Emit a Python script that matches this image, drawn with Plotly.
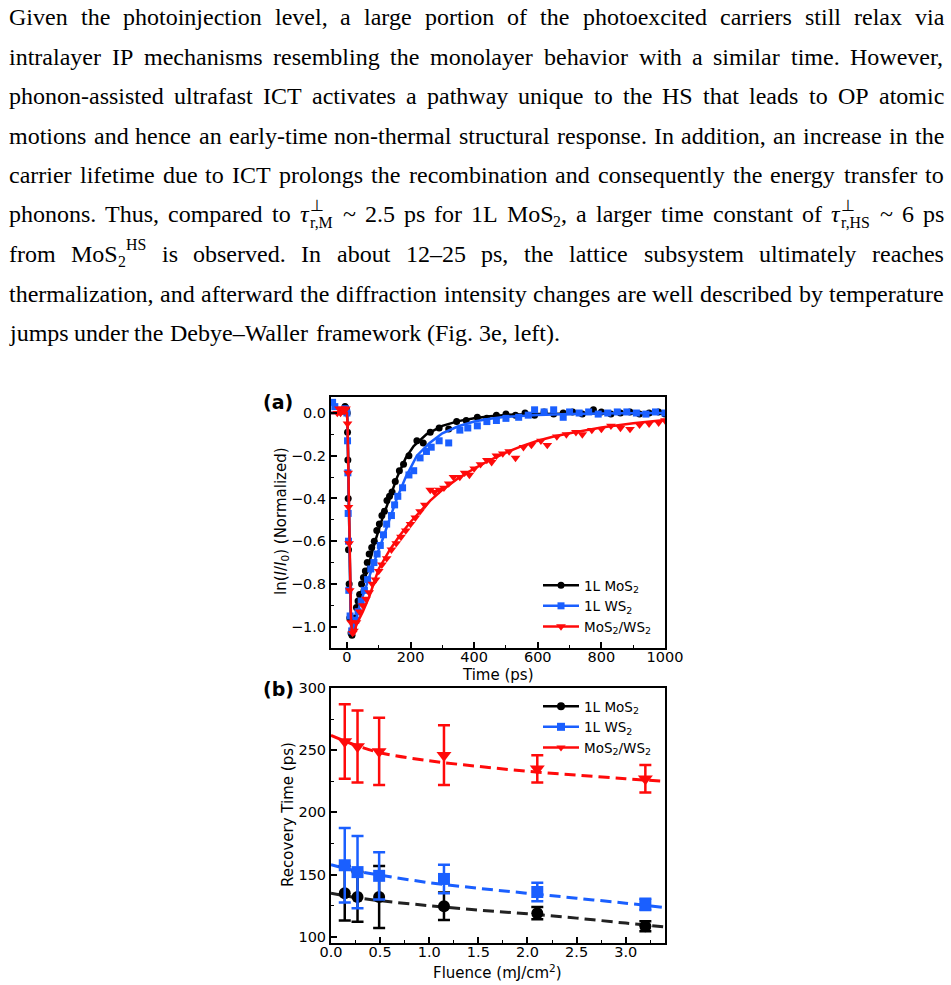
import plotly.graph_objects as go

W, H = 951, 985


def X(p):
    return p / W


def Y(p):
    return 1 - p / H


# ---------------- panel (a): ln(I/I0) vs time ----------------
series_names = ["1L MoS<sub>2</sub>", "1L WS<sub>2</sub>", "MoS<sub>2</sub>/WS<sub>2</sub>"]
series_colors = ["#000000", "#1a5fff", "#ff0a0a"]
series_symbols = ["circle", "square", "triangle-down"]

t_mos2 = [-12, -6, -2, 1, 2, 3, 4, 5, 7, 9, 13, 16, 20, 25, 30, 35, 40, 46, 52, 58,
          64, 70, 78, 86, 94, 102, 110, 118, 126, 134, 142, 152, 165, 178, 195, 220, 240, 262, 290, 320,
          345, 375, 410, 440, 470, 500, 530, 560, 590, 620, 650, 680, 710, 740, 775, 800, 830, 860, 890, 920,
          950, 980, 1000]
v_mos2 = [0.01, 0.03, 0.02, 0.0, -0.09, -0.22, -0.40, -0.64, -0.80, -0.96,
          -1.03, -1.04, -1.01, -0.96, -0.91, -0.88, -0.85, -0.80, -0.77, -0.74,
          -0.70, -0.66, -0.63, -0.60, -0.55, -0.52, -0.48, -0.46, -0.41, -0.39,
          -0.37, -0.32, -0.27, -0.24, -0.20, -0.13, -0.14, -0.09, -0.07, -0.075,
          -0.04, -0.035, -0.02, -0.025, -0.01, -0.005, -0.01, 0.0, -0.01, 0.005,
          -0.005, 0.0, 0.005, -0.005, 0.015, 0.005, -0.005, 0.0, 0.005, -0.005,
          0.0, 0.005, -0.005]

t_ws2 = [-45, -38, -5, 0, 2, 3, 4, 5, 6, 10, 15, 20, 28, 35, 45, 55, 65, 75, 85, 95,
         105, 115, 125, 140, 150, 160, 175, 195, 210, 230, 250, 265, 290, 320, 355, 380, 410, 440, 470, 500,
         540, 570, 590, 620, 650, 680, 700, 730, 760, 790, 820, 850, 880, 910, 940, 970, 1000]
v_ws2 = [0.05, 0.03, 0.02, 0.0, -0.13, -0.28, -0.47, -0.60, -0.83, -0.95,
         -1.02, -1.0, -0.97, -0.93, -0.88, -0.83, -0.78, -0.73, -0.70, -0.66,
         -0.62, -0.57, -0.52, -0.48, -0.43, -0.39, -0.35, -0.29, -0.27, -0.21,
         -0.18, -0.16, -0.13, -0.14, -0.08, -0.07, -0.06, -0.04, -0.035, -0.025,
         -0.02, -0.01, 0.015, 0.005, 0.015, -0.02, 0.005, 0.0, 0.005, -0.005,
         0.0, 0.005, 0.005, 0.0, -0.005, 0.005, 0.0]

t_hs = [-30, -25, -20, -15, -8, -3, 2, 4, 5, 7, 9, 13, 18, 22, 30, 40, 50, 60, 70, 80,
        90, 100, 110, 125, 140, 155, 170, 185, 200, 215, 230, 245, 262, 275, 290, 305, 320, 335, 355, 370,
        385, 400, 420, 440, 455, 470, 490, 510, 530, 555, 580, 610, 630, 660, 690, 720, 740, 770, 800, 830,
        860, 890, 920, 950, 980, 1000]
v_hs = [0.0, 0.02, 0.0, 0.02, 0.01, 0.02, -0.05, -0.28, -0.44, -0.61,
        -0.83, -0.98, -1.03, -1.02, -0.98, -0.93, -0.90, -0.87, -0.84, -0.80,
        -0.78, -0.74, -0.71, -0.68, -0.64, -0.61, -0.58, -0.55, -0.52, -0.49,
        -0.46, -0.43, -0.36, -0.37, -0.36, -0.35, -0.33, -0.30, -0.30, -0.28,
        -0.29, -0.26, -0.24, -0.22, -0.23, -0.20, -0.19, -0.18, -0.21, -0.16,
        -0.15, -0.13, -0.15, -0.11, -0.10, -0.09, -0.10, -0.08, -0.075, -0.06,
        -0.07, -0.075, -0.055, -0.05, -0.045, -0.035]

fit_t_mos2 = [-50, 0, 2, 4, 6, 8, 10, 12, 15, 18, 25, 35, 52, 70, 89, 110, 135, 158, 185, 210,
              250, 300, 350, 400, 450, 500, 600, 700, 850, 1000]
fit_v_mos2 = [0, 0, -0.05, -0.25, -0.45, -0.65, -0.82, -0.95, -1.03, -1.035, -0.98, -0.90, -0.80, -0.70,
              -0.60, -0.50, -0.40, -0.30, -0.21, -0.155, -0.10, -0.06, -0.038, -0.024, -0.015, -0.009,
              -0.004, -0.002, -0.001, 0.0]

fit_t_ws2 = [-50, 0, 2, 4, 6, 8, 10, 12, 15, 18, 25, 40, 63, 85, 110, 133, 157, 185, 220, 260,
             300, 350, 400, 450, 500, 600, 700, 850, 1000]
fit_v_ws2 = [0, 0, -0.05, -0.25, -0.45, -0.65, -0.82, -0.95, -1.03, -1.035, -0.99, -0.90, -0.80, -0.70,
             -0.60, -0.50, -0.40, -0.30, -0.20, -0.14, -0.095, -0.062, -0.04, -0.027, -0.018, -0.009,
             -0.004, -0.001, 0.0]

fit_t_hs = [-50, 0, 2, 4, 6, 8, 10, 13, 17, 21, 30, 50, 70, 100, 135, 168, 200, 230, 262, 300,
            350, 400, 450, 500, 550, 600, 650, 700, 800, 900, 1000]
fit_v_hs = [0, 0, -0.05, -0.25, -0.45, -0.65, -0.82, -0.97, -1.03, -1.04, -0.99, -0.93, -0.86, -0.73,
            -0.64, -0.57, -0.51, -0.46, -0.41, -0.36, -0.305, -0.26, -0.22, -0.185, -0.155, -0.13,
            -0.11, -0.095, -0.068, -0.048, -0.033]

# ---------------- panel (b): recovery time vs fluence ----------------
fluence = [0.14, 0.27, 0.49, 1.15, 2.1, 3.2]
rt_mos2 = [135, 132, 132, 124.5, 119, 108.5]
err_mos2 = [22, 20, 25, 11, 5, 4]
rt_ws2 = [157.5, 152, 149, 146.5, 136, 126]
err_ws2 = [30, 29, 19, 11.5, 7.5, 4.5]
rt_hs = [257, 253, 249, 246, 235, 227]
err_hs = [30, 29, 27, 24, 11, 11]

fit_fluence = [0, 0.25, 0.5, 1.0, 1.5, 2.0, 2.5, 3.0, 3.4]
fit_rt_mos2 = [135, 131.5, 129, 125, 121.5, 118.5, 115, 111, 108]
fit_rt_ws2 = [158, 153, 149.5, 143.5, 139, 135, 131, 127, 123.5]
fit_rt_hs = [262, 254, 248, 241.5, 237, 233, 230, 227, 225]

# ---------------- paragraph text ----------------
para_lines = [
    "Given the photoinjection level, a large portion of the photoexcited carriers still relax via",
    "intralayer IP mechanisms resembling the monolayer behavior with a similar time. However,",
    "phonon-assisted ultrafast ICT activates a pathway unique to the HS that leads to OP atomic",
    "motions and hence an early-time non-thermal structural response. In addition, an increase in the",
    "carrier lifetime due to ICT prolongs the recombination and consequently the energy transfer to",
    "phonons. Thus, compared to {TAUM} ~ 2.5 ps for 1L {MOS2C} a larger time constant of {TAUHS} ~ 6 ps",
    "from {MOS2HS} is observed. In about 12–25 ps, the lattice subsystem ultimately reaches",
    "thermalization, and afterward the diffraction intensity changes are well described by temperature",
    "jumps under the Debye–Waller framework (Fig. 3e, left).",
]

TW = {' ': 250, '!': 333, '(': 333, ')': 333, ',': 250, '-': 333, '.': 250, '/': 278, ':': 278,
      ';': 278, '~': 541, '–': 500, 'τ': 440, '⊥': 600,
      'A': 722, 'B': 667, 'C': 667, 'D': 722, 'E': 611, 'F': 556, 'G': 722, 'H': 722, 'I': 333,
      'J': 389, 'K': 722, 'L': 611, 'M': 889, 'N': 722, 'O': 722, 'P': 556, 'Q': 722, 'R': 667,
      'S': 556, 'T': 611, 'U': 722, 'V': 722, 'W': 944, 'X': 722, 'Y': 722, 'Z': 611,
      'a': 444, 'b': 500, 'c': 444, 'd': 500, 'e': 444, 'f': 333, 'g': 500, 'h': 500, 'i': 278,
      'j': 278, 'k': 500, 'l': 278, 'm': 778, 'n': 500, 'o': 500, 'p': 500, 'q': 500, 'r': 333,
      's': 389, 't': 278, 'u': 500, 'v': 500, 'w': 722, 'x': 500, 'y': 500, 'z': 444}

FS = 24
SC = 0.66
TEXT_L, TEXT_R = 8, 943
LINE0, LINE_STEP = 17, 39.5


def tw(s, size):
    return sum(TW.get(c, 500) for c in s) * size / 1000.0


def pieces(word):
    # (text, scale, dy, italic, advance)
    if word == "{TAUM}":
        return [("τ", 1, 0, True, True), ("⊥", SC, -9, False, False), ("r,M", SC, 8, False, True)]
    if word == "{TAUHS}":
        return [("τ", 1, 0, True, True), ("⊥", SC, -9, False, False), ("r,HS", SC, 8, False, True)]
    if word == "{MOS2C}":
        return [("MoS", 1, 0, False, True), ("2", SC, 7, False, True), (",", 1, 0, False, True)]
    if word == "{MOS2HS}":
        return [("MoS", 1, 0, False, True), ("2", SC, 7, False, True), ("HS", SC, -9, False, True)]
    return [(word, 1, 0, False, True)]


def word_width(word):
    return sum(tw(p[0], FS * p[1]) for p in pieces(word) if p[4])


annotations = []


def text_ann(x, y, text, size, family="Liberation Serif", bold=False, xanchor="left", angle=0):
    if bold:
        text = "<b>" + text + "</b>"
    annotations.append(dict(x=X(x), y=Y(y), xref="paper", yref="paper", text=text,
                            showarrow=False, xanchor=xanchor, yanchor="middle", borderpad=0,
                            textangle=angle, font=dict(family=family, size=size, color="black")))


for i, line in enumerate(para_lines):
    words = line.split(" ")
    ly = LINE0 + i * LINE_STEP
    widths = [word_width(w) for w in words]
    if i == len(para_lines) - 1:
        gap = tw(" ", FS)
    else:
        gap = (TEXT_R - TEXT_L - sum(widths)) / (len(words) - 1)
    cx = TEXT_L
    for w, wd in zip(words, widths):
        px = cx
        for txt, sc, dy, it, adv in pieces(w):
            t = "<i>" + txt + "</i>" if it else txt
            text_ann(px, ly + dy, t, FS * sc)
            if adv:
                px += tw(txt, FS * sc)
        cx += wd + gap

# panel labels
text_ann(278, 402, "(a)", 19, family="DejaVu Sans", bold=True, xanchor="center")
text_ann(278, 689, "(b)", 19, family="DejaVu Sans", bold=True, xanchor="center")

# axis titles
TITLE_SIZE = 15
text_ann(498, 675, "Time (ps)", TITLE_SIZE, family="DejaVu Sans", xanchor="center")
text_ann(498, 972, "Fluence (mJ/cm<sup>2</sup>)", TITLE_SIZE, family="DejaVu Sans", xanchor="center")
text_ann(281, 521, "ln(<i>I</i>/<i>I</i><sub>0</sub>) (Normalized)", TITLE_SIZE, family="DejaVu Sans",
         xanchor="center", angle=-90)
text_ann(288, 815, "Recovery Time (ps)", TITLE_SIZE, family="DejaVu Sans", xanchor="center", angle=-90)

# ---------------- figure ----------------
fig = go.Figure()

fits_a = [(fit_t_mos2, fit_v_mos2), (fit_t_ws2, fit_v_ws2), (fit_t_hs, fit_v_hs)]
data_a = [(t_mos2, v_mos2), (t_ws2, v_ws2), (t_hs, v_hs)]
msize_a = [7, 7, 8.5]
for k in range(3):
    fig.add_trace(go.Scatter(x=fits_a[k][0], y=fits_a[k][1], mode="lines",
                             line=dict(color=series_colors[k], width=2.5),
                             showlegend=False, xaxis="x", yaxis="y", hoverinfo="skip"))
    fig.add_trace(go.Scatter(x=data_a[k][0], y=data_a[k][1], mode="markers",
                             marker=dict(color=series_colors[k], symbol=series_symbols[k], size=msize_a[k],
                                         line=dict(width=0)),
                             showlegend=False, xaxis="x", yaxis="y"))
for k in range(3):
    fig.add_trace(go.Scatter(x=[None], y=[None], mode="lines+markers", name=series_names[k],
                             line=dict(color=series_colors[k], width=2.5),
                             marker=dict(color=series_colors[k], symbol=series_symbols[k], size=msize_a[k]),
                             legend="legend", xaxis="x", yaxis="y"))

fit_b = [fit_rt_mos2, fit_rt_ws2, fit_rt_hs]
data_b = [(rt_mos2, err_mos2), (rt_ws2, err_ws2), (rt_hs, err_hs)]
fit_colors_b = ["#222222", "#1a5fff", "#ff0a0a"]
msize_b = [12, 12, 13]
for k in range(3):
    fig.add_trace(go.Scatter(x=fit_fluence, y=fit_b[k], mode="lines", line_shape="spline",
                             line=dict(color=fit_colors_b[k], width=3, dash="11px,6px"),
                             showlegend=False, xaxis="x2", yaxis="y2", hoverinfo="skip"))
for k in range(3):
    fig.add_trace(go.Scatter(x=fluence, y=data_b[k][0], mode="markers",
                             marker=dict(color=series_colors[k], symbol=series_symbols[k], size=msize_b[k],
                                         line=dict(width=0)),
                             error_y=dict(type="data", array=data_b[k][1], color=series_colors[k],
                                          thickness=2.5, width=6),
                             showlegend=False, xaxis="x2", yaxis="y2"))
for k in range(3):
    fig.add_trace(go.Scatter(x=[None], y=[None], mode="lines+markers", name=series_names[k],
                             line=dict(color=series_colors[k], width=2.5),
                             marker=dict(color=series_colors[k], symbol=series_symbols[k], size=8),
                             legend="legend2", xaxis="x2", yaxis="y2"))

tickfont = dict(family="DejaVu Sans", size=14.5, color="black")
axis_common = dict(showline=True, linewidth=2, linecolor="black", mirror=True, ticks="inside",
                   ticklen=6, tickwidth=1.5, tickcolor="black", showgrid=False, zeroline=False,
                   tickfont=tickfont, automargin=False)
minor_common = dict(ticks="inside", ticklen=3, tickwidth=1.2, tickcolor="black", showgrid=False)
legfont = dict(family="DejaVu Sans", size=13.5, color="black")

xdom = [X(331), X(665)]
fig.update_layout(
    width=W, height=H,
    margin=dict(l=0, r=0, t=0, b=0),
    paper_bgcolor="white", plot_bgcolor="white",
    annotations=annotations,
    xaxis=dict(domain=xdom, anchor="y", range=[-50, 1000], tick0=0, dtick=200,
               minor=dict(dtick=100, **minor_common), ticklabelstandoff=-5, **axis_common),
    yaxis=dict(domain=[Y(648), Y(397)], anchor="x", range=[-1.1, 0.075], tick0=0, dtick=0.2,
               tickformat=".1f", minor=dict(dtick=0.1, **minor_common), **axis_common),
    xaxis2=dict(domain=xdom, anchor="y2", range=[0, 3.4], tick0=0, dtick=0.5, tickformat=".1f",
                minor=dict(dtick=0.25, **minor_common), ticklabelstandoff=-5, **axis_common),
    yaxis2=dict(domain=[Y(943), Y(688)], anchor="x2", range=[95, 300], tick0=0, dtick=50,
                minor=dict(dtick=25, **minor_common), **axis_common),
    legend=dict(x=X(538), y=Y(570), xanchor="left", yanchor="top", bgcolor="rgba(0,0,0,0)",
                font=legfont, itemwidth=36),
    legend2=dict(x=X(538), y=Y(691), xanchor="left", yanchor="top", bgcolor="rgba(0,0,0,0)",
                 font=legfont, itemwidth=36),
)

fig.write_html("out.html")
